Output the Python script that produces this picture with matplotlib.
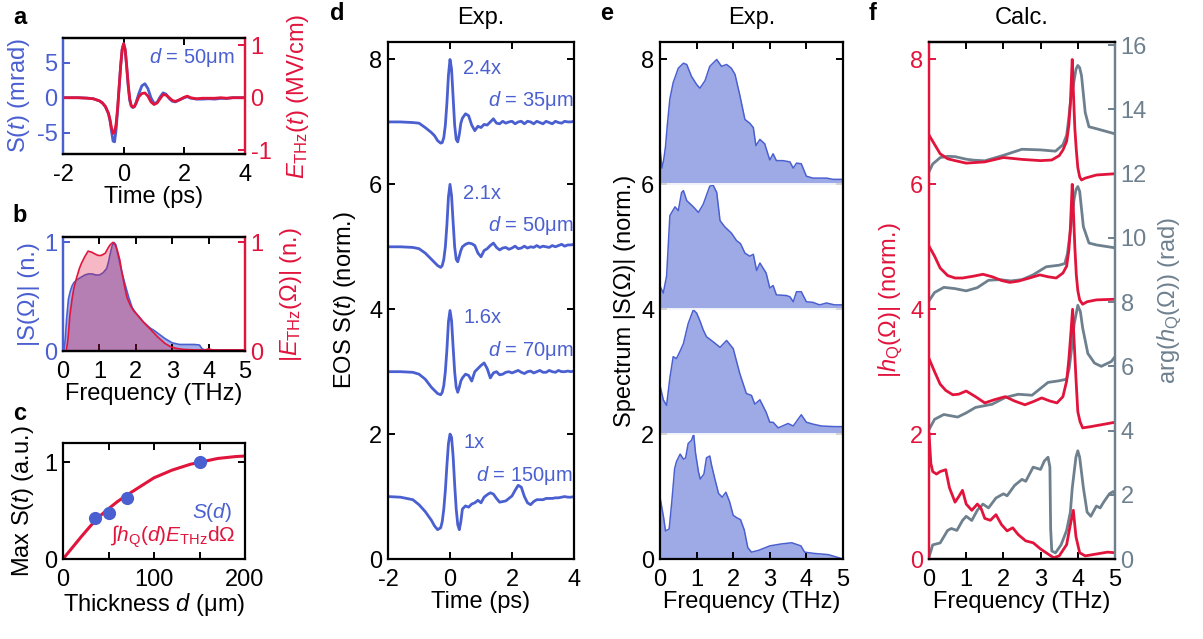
import matplotlib
matplotlib.use("Agg")
import matplotlib.pyplot as plt

plt.rcParams["font.family"] = ["Liberation Sans", "DejaVu Sans"]
plt.rcParams["mathtext.fontset"] = "custom"
plt.rcParams["mathtext.rm"] = "Liberation Sans"
plt.rcParams["mathtext.it"] = "Liberation Sans:italic"
plt.rcParams["mathtext.bf"] = "Liberation Sans:bold"
plt.rcParams["axes.unicode_minus"] = False

BLUE = "#4a5fd0"
RED = "#e1143c"
GRAY = "#6e808e"
FILL = "#9eaae6"

# ---- panel a: time traces, d = 50 um
time_a = [-2.0, -1.5, -1.2, -1.0, -0.8, -0.7, -0.6, -0.5, -0.45, -0.4, -0.35, -0.3,
          -0.25, -0.2, -0.15, -0.1, -0.05, 0.0, 0.05, 0.1, 0.15, 0.2, 0.25, 0.3,
          0.35, 0.4, 0.5, 0.6, 0.7, 0.8, 0.9, 1.0, 1.1, 1.2, 1.3, 1.4, 1.5, 1.6,
          1.7, 1.8, 1.9, 2.0, 2.1, 2.2, 2.4, 2.6, 2.8, 3.0, 3.2, 3.4, 3.6, 3.8, 4.0]
eos_a = [0, 0, -0.05, -0.15, -0.45, -0.75, -1.3, -2.3, -3.3, -4.8, -6.2, -6.3,
         -4.6, -1.8, 1.4, 4.5, 6.9, 7.7, 6.8, 4.4, 1.6, -0.4, -1.2, -1.4,
         -1.3, -0.8, 0.6, 1.7, 2.0, 1.3, 0.0, -0.8, -0.7, 0.1, 0.7, 0.5, -0.1, -0.5,
         -0.6, -0.4, -0.2, 0.0, 0.15, -0.05, -0.2, -0.2, -0.15, -0.2, -0.1, -0.1, 0, 0, 0]
field_a = [0, 0, -0.01, -0.02, -0.06, -0.1, -0.17, -0.3, -0.42, -0.58, -0.68, -0.66,
           -0.5, -0.2, 0.2, 0.6, 0.92, 1.03, 0.92, 0.6, 0.25, -0.02, -0.15, -0.18,
           -0.17, -0.12, 0.02, 0.08, 0.09, 0.03, -0.08, -0.13, -0.1, -0.02, 0.06, 0.05, 0.0, -0.05,
           -0.07, -0.05, -0.02, 0.01, 0.03, 0.0, -0.02, -0.01, -0.01, -0.01, 0, -0.01, 0, 0, 0]

# ---- panel b: spectra
freq_b_s = [0, 0.03, 0.06, 0.1, 0.15, 0.2, 0.25, 0.3, 0.4, 0.5, 0.6, 0.7, 0.8, 0.9, 1.0,
            1.1, 1.2, 1.25, 1.3, 1.35, 1.4, 1.45, 1.5, 1.6, 1.7, 1.8, 1.9, 2.0, 2.1, 2.2,
            2.3, 2.4, 2.5, 2.6, 2.7, 2.8, 2.9, 3.0, 3.2, 3.4, 3.6, 3.75, 3.82, 3.9, 4.0, 4.5, 5.0]
spec_b_s = [0.0, 0.02, 0.1, 0.3, 0.48, 0.55, 0.6, 0.63, 0.66, 0.68, 0.70, 0.71, 0.71, 0.70, 0.70,
            0.72, 0.76, 0.82, 0.9, 0.97, 1.0, 0.98, 0.9, 0.75, 0.62, 0.5, 0.4, 0.35, 0.31, 0.27,
            0.24, 0.21, 0.19, 0.165, 0.14, 0.115, 0.095, 0.075, 0.06, 0.06, 0.06, 0.055, 0.02,
            0.01, 0.01, 0.01, 0.01]
freq_b_e = [0, 0.08, 0.1, 0.14, 0.19, 0.25, 0.3, 0.37, 0.45, 0.51, 0.6, 0.69, 0.79, 0.9, 0.97,
            1.05, 1.16, 1.24, 1.3, 1.37, 1.43, 1.49, 1.56, 1.62, 1.7, 1.76, 1.85, 1.94, 2.05,
            2.2, 2.4, 2.6, 2.8, 2.95, 3.1, 3.3, 3.6, 3.9, 4.0, 4.1, 4.5, 5.0]
spec_b_e = [0, 0.0, 0.02, 0.12, 0.33, 0.48, 0.58, 0.67, 0.76, 0.81, 0.87, 0.92, 0.91, 0.89, 0.88,
            0.88, 0.9, 0.95, 0.98, 1.0, 0.98, 0.93, 0.84, 0.72, 0.58, 0.49, 0.42, 0.37, 0.33,
            0.27, 0.2, 0.13, 0.07, 0.04, 0.025, 0.015, 0.01, 0.01, 0.02, 0.01, 0.01, 0.01]

# ---- panel c: thickness dependence
thick_pts = [35, 50, 70, 150]
max_pts = [0.42, 0.48, 0.635, 1.0]
thick_fit = [0, 10, 20, 30, 40, 50, 60, 70, 80, 90, 100, 110, 120, 130, 140, 150,
             160, 170, 180, 190, 200]
max_fit = [0, 0.115, 0.23, 0.34, 0.44, 0.52, 0.595, 0.66, 0.72, 0.78, 0.84, 0.88,
           0.92, 0.95, 0.98, 1.0, 1.02, 1.04, 1.05, 1.06, 1.065]

# ---- panel d: EOS traces (normalized), top to bottom
thickness_labels = ["35", "50", "70", "150"]
scale_labels = ["2.4x", "2.1x", "1.6x", "1x"]
offsets_d = [7, 5, 3, 1]
time_d = [-2.0, -1.6, -1.2, -1.0, -0.8, -0.6, -0.5, -0.4, -0.3, -0.25, -0.2, -0.15, -0.1,
          -0.05, 0.0, 0.05, 0.1, 0.15, 0.2, 0.25, 0.3, 0.35, 0.4, 0.5, 0.6, 0.7, 0.8, 0.9,
          1.0, 1.1, 1.2, 1.3, 1.4, 1.5, 1.6, 1.7, 1.8, 1.9, 2.0, 2.1, 2.2, 2.3, 2.4, 2.5,
          2.6, 2.7, 2.8, 2.9, 3.0, 3.1, 3.2, 3.3, 3.4, 3.5, 3.6, 3.7, 3.8, 3.9, 4.0]
eos_35 = [0, 0, -0.01, -0.02, -0.09, -0.17, -0.22, -0.3, -0.34, -0.33, -0.25, -0.05, 0.3,
          0.75, 1.0, 0.85, 0.4, -0.05, -0.28, -0.32, -0.2, -0.02, 0.06, 0.13, 0.1, -0.05, -0.14, -0.07,
          -0.09, -0.04, -0.05, 0.0, 0.05, -0.02, -0.03, 0.01, -0.02, 0.0, 0.01, -0.03, 0.0, 0.01, -0.03, 0.01,
          0.0, -0.03, 0.01, -0.01, -0.03, 0.01, -0.01, -0.03, 0.01, -0.01, -0.02, 0.01, 0.0, 0.0, 0.01]
eos_50 = [0, 0, -0.01, -0.03, -0.1, -0.2, -0.25, -0.3, -0.33, -0.3, -0.2, 0.0, 0.35,
          0.8, 1.0, 0.82, 0.4, 0.0, -0.2, -0.24, -0.15, -0.06, 0.0, 0.04, 0.06, 0.05, 0.02, -0.1,
          -0.16, -0.06, -0.03, 0.02, 0.06, -0.01, -0.05, -0.02, -0.01, -0.04, -0.02, 0.01, -0.03, -0.02, 0.01, -0.02,
          0.0, -0.01, 0.02, -0.01, 0.01, 0.0, -0.01, 0.02, 0.0, 0.02, 0.04, 0.01, 0.03, 0.03, 0.04]
eos_70 = [0, 0, -0.01, -0.04, -0.12, -0.25, -0.3, -0.35, -0.37, -0.33, -0.22, 0.0, 0.35,
          0.8, 0.98, 0.82, 0.4, 0.0, -0.25, -0.33, -0.25, -0.15, -0.1, -0.04, -0.06, -0.15, 0.0, 0.05,
          0.1, 0.14, 0.05, -0.1, -0.02, 0.0, -0.05, -0.04, -0.01, 0.0, -0.02, 0.0, 0.02, -0.01, -0.03, 0.0,
          0.01, -0.02, 0.0, 0.02, -0.01, -0.01, 0.02, 0.0, -0.01, 0.02, 0.0, 0.0, 0.01, 0.0, 0.01]
eos_150 = [0, -0.01, -0.05, -0.13, -0.24, -0.38, -0.47, -0.53, -0.5, -0.4, -0.2, 0.1, 0.5,
           0.85, 1.0, 0.95, 0.65, 0.2, -0.2, -0.45, -0.53, -0.4, -0.2, -0.15, -0.17, -0.12, -0.1, -0.06,
           -0.1, -0.01, 0.03, 0.06, 0.04, -0.03, -0.09, -0.08, -0.07, -0.03, 0.01, 0.1, 0.18, 0.15, 0.0, -0.1,
           -0.13, -0.08, -0.05, -0.05, -0.05, -0.03, -0.03, -0.03, -0.02, -0.02, -0.01, 0.0, -0.01, -0.01, 0.0]
eos_traces = [eos_35, eos_50, eos_70, eos_150]

# ---- panel e: spectra (normalized to 2), top to bottom
offsets_e = [6, 4, 2, 0]
freq_35 = [0, 0.05, 0.1, 0.15, 0.2, 0.27, 0.36, 0.5, 0.64, 0.73, 0.86, 1.0, 1.09, 1.23, 1.36,
           1.55, 1.68, 1.82, 1.95, 2.05, 2.18, 2.32, 2.45, 2.55, 2.62, 2.73, 2.86, 3.0, 3.09,
           3.18, 3.36, 3.55, 3.64, 3.73, 3.86, 4.0, 4.18, 4.55, 4.73, 5.0]
spec_35 = [0.59, 0.26, 0.39, 0.6, 0.95, 1.37, 1.63, 1.86, 1.94, 1.92, 1.73, 1.6, 1.54, 1.66, 1.89,
           2.0, 1.89, 1.92, 1.86, 1.76, 1.43, 1.04, 0.98, 0.91, 0.62, 0.72, 0.65, 0.39, 0.49,
           0.38, 0.38, 0.36, 0.26, 0.34, 0.33, 0.13, 0.1, 0.1, 0.08, 0.08]
freq_50 = [0, 0.09, 0.18, 0.27, 0.32, 0.41, 0.5, 0.59, 0.64, 0.73, 0.91, 1.05, 1.18, 1.36, 1.45,
           1.55, 1.64, 1.77, 1.95, 2.09, 2.2, 2.32, 2.45, 2.55, 2.64, 2.73, 2.9, 3.0, 3.09, 3.18,
           3.45, 3.55, 3.64, 3.73, 3.86, 4.0, 4.18, 4.36, 4.55, 4.77, 5.0]
spec_50 = [0.37, 0.26, 0.53, 1.5, 1.55, 1.64, 1.58, 1.87, 1.9, 1.74, 1.64, 1.55, 1.68, 1.97, 1.99,
           1.87, 1.42, 1.32, 1.22, 1.1, 1.05, 0.9, 0.85, 0.88, 0.62, 0.74, 0.58, 0.34, 0.38, 0.23,
           0.22, 0.2, 0.12, 0.28, 0.28, 0.12, 0.11, 0.07, 0.1, 0.07, 0.07]
freq_70 = [0, 0.09, 0.18, 0.27, 0.36, 0.45, 0.55, 0.64, 0.77, 0.91, 1.0, 1.1, 1.18, 1.27, 1.45,
           1.64, 1.82, 2.0, 2.18, 2.36, 2.5, 2.59, 2.73, 2.9, 3.0, 3.09, 3.23, 3.5, 3.64, 3.86,
           4.0, 4.18, 4.41, 4.77, 5.0]
spec_70 = [0.78, 0.55, 0.46, 0.9, 1.24, 1.21, 1.33, 1.45, 1.77, 1.99, 1.94, 1.8, 1.67, 1.56, 1.48,
           1.39, 1.5, 1.37, 0.97, 0.65, 0.62, 0.48, 0.55, 0.35, 0.19, 0.19, 0.1, 0.17, 0.13, 0.31,
           0.19, 0.16, 0.13, 0.12, 0.12]
freq_150 = [0, 0.1, 0.15, 0.25, 0.32, 0.4, 0.45, 0.55, 0.64, 0.7, 0.77, 0.86, 0.92, 0.97, 1.05,
            1.1, 1.2, 1.27, 1.36, 1.41, 1.5, 1.6, 1.7, 1.8, 1.9, 2.0, 2.1, 2.2, 2.3, 2.4, 2.5,
            2.7, 3.0, 3.3, 3.6, 3.75, 3.85, 3.95, 4.2, 4.6, 5.0]
spec_150 = [0.99, 0.66, 0.45, 0.48, 0.9, 1.45, 1.56, 1.68, 1.6, 1.62, 1.85, 1.9, 2.0, 1.7, 1.4,
            1.28, 1.36, 1.62, 1.65, 1.5, 1.28, 1.05, 0.99, 1.07, 0.92, 0.7, 0.66, 0.63, 0.47, 0.18, 0.11,
            0.14, 0.21, 0.24, 0.26, 0.23, 0.21, 0.11, 0.09, 0.07, 0.0]
spec_freqs = [freq_35, freq_50, freq_70, freq_150]
spectra = [spec_35, spec_50, spec_70, spec_150]

# ---- panel f: calculated response, top to bottom
offsets_amp = [6, 4, 2, 0]
offsets_phase = [12, 8, 4, 0]
famp_35 = [0, 0.1, 0.3, 0.5, 0.7, 1.0, 1.5, 2.0, 2.5, 3.0, 3.3, 3.5, 3.6, 3.7, 3.76, 3.8, 3.85,
           3.88, 3.92, 3.96, 4.0, 4.05, 4.1, 4.2, 4.5, 5.0]
amp_35 = [0.79, 0.69, 0.49, 0.41, 0.38, 0.34, 0.36, 0.43, 0.4, 0.38, 0.39, 0.46, 0.55, 0.69, 0.95,
          1.3, 2.0, 1.5, 0.9, 0.55, 0.27, 0.12, 0.07, 0.1, 0.15, 0.17]
famp_50 = [0, 0.15, 0.3, 0.5, 0.7, 0.9, 1.2, 1.45, 1.7, 1.95, 2.17, 2.4, 2.7, 2.98, 3.2, 3.42, 3.6,
           3.7, 3.76, 3.8, 3.85, 3.88, 3.92, 3.96, 4.0, 4.05, 4.13, 4.25, 4.5, 5.0]
amp_50 = [1.01, 0.85, 0.66, 0.54, 0.5, 0.5, 0.53, 0.56, 0.52, 0.46, 0.43, 0.45, 0.5, 0.55, 0.52, 0.5,
          0.58, 0.69, 0.95, 1.3, 2.0, 1.6, 1.0, 0.55, 0.3, 0.15, 0.08, 0.12, 0.15, 0.16]
famp_70 = [0, 0.15, 0.3, 0.45, 0.64, 0.8, 1.0, 1.25, 1.5, 1.75, 2.05, 2.3, 2.58, 2.8, 3.03, 3.25,
           3.44, 3.6, 3.7, 3.76, 3.8, 3.86, 3.9, 3.95, 4.0, 4.06, 4.13, 4.35, 5.0]
amp_70 = [1.21, 1.0, 0.8, 0.7, 0.63, 0.64, 0.69, 0.6, 0.5, 0.55, 0.6, 0.53, 0.47, 0.52, 0.58, 0.53,
          0.5, 0.6, 0.85, 1.2, 1.51, 2.0, 1.5, 0.9, 0.36, 0.2, 0.1, 0.12, 0.19]
famp_150 = [0, 0.05, 0.1, 0.2, 0.3, 0.45, 0.55, 0.7, 0.8, 0.9, 1.0, 1.15, 1.3, 1.4, 1.5, 1.65, 1.8,
            1.95, 2.1, 2.25, 2.4, 2.6, 2.8, 3.0, 3.2, 3.35, 3.5, 3.7, 3.8, 3.88, 3.95, 4.05, 4.2,
            4.5, 4.8, 5.0]
amp_150 = [2.01, 1.53, 1.4, 1.36, 1.4, 1.43, 1.14, 0.91, 1.0, 1.1, 0.88, 0.78, 0.88, 0.81, 0.65, 0.62,
           0.71, 0.55, 0.45, 0.5, 0.39, 0.29, 0.26, 0.16, 0.08, 0.02, 0.05, 0.23, 0.55, 0.78, 0.36,
           0.1, 0.05, 0.08, 0.11, 0.1]
fph_35 = [0, 0.1, 0.3, 0.5, 0.7, 1.0, 1.2, 1.5, 2.0, 2.5, 3.0, 3.4, 3.6, 3.7, 3.75, 3.8, 3.9, 3.95,
          4.0, 4.05, 4.1, 4.2, 4.3, 4.5, 5.0]
ph_35 = [0.06, 0.3, 0.5, 0.54, 0.53, 0.45, 0.42, 0.4, 0.57, 0.76, 0.74, 0.7, 0.9, 1.2, 1.65, 2.2,
         2.9, 3.25, 3.37, 3.3, 3.05, 1.9, 1.46, 1.4, 1.24]
fph_50 = [0, 0.15, 0.4, 0.7, 1.0, 1.3, 1.6, 1.9, 2.2, 2.5, 2.8, 3.15, 3.5, 3.65, 3.72, 3.8, 3.9,
          3.95, 4.0, 4.05, 4.15, 4.3, 4.5, 5.0]
ph_50 = [0.04, 0.3, 0.46, 0.42, 0.35, 0.45, 0.68, 0.7, 0.66, 0.7, 0.85, 1.1, 1.15, 1.2, 1.5, 2.2,
         3.2, 3.5, 3.6, 3.45, 2.35, 1.84, 1.78, 1.69]
fph_70 = [0, 0.15, 0.4, 0.77, 1.0, 1.25, 1.7, 2.05, 2.4, 2.77, 3.2, 3.5, 3.7, 3.77, 3.85, 3.9, 4.0,
          4.07, 4.13, 4.27, 4.45, 4.63, 4.9, 5.0]
ph_70 = [0.03, 0.35, 0.5, 0.42, 0.55, 0.72, 0.82, 1.03, 1.13, 1.1, 1.5, 1.55, 1.6, 1.95, 2.7, 3.3,
         3.9, 3.7, 3.2, 2.4, 2.1, 2.0, 2.15, 2.3]
fph_150 = [0, 0.1, 0.3, 0.5, 0.6, 0.75, 0.9, 1.0, 1.15, 1.3, 1.45, 1.6, 1.8, 2.0, 2.1, 2.3, 2.5,
           2.6, 2.8, 3.0, 3.1, 3.2, 3.25, 3.27, 3.3, 3.4, 3.55, 3.7, 3.8, 3.85, 3.95, 4.0, 4.05,
           4.15, 4.25, 4.35, 4.5, 4.6, 4.7, 4.85, 4.95, 5.0]
ph_150 = [0.06, 0.44, 0.5, 0.89, 0.95, 0.89, 1.2, 1.33, 1.2, 1.52, 1.71, 1.59, 1.9, 2.03, 1.97, 2.29,
          2.48, 2.42, 2.86, 2.79, 3.05, 3.17, 2.86, 0.95, 0.25, 0.19, 0.44, 0.89, 1.46, 2.2, 3.17,
          3.37, 3.17, 2.22, 1.46, 1.33, 1.65, 1.59, 1.78, 2.03, 2.1, 2.03]
amp_freqs = [famp_35, famp_50, famp_70, famp_150]
amps = [amp_35, amp_50, amp_70, amp_150]
phase_freqs = [fph_35, fph_50, fph_70, fph_150]
phases = [ph_35, ph_50, ph_70, ph_150]

W, H = 1203, 639
FS = 17
TICK_FS = 17


def box(left, top, right, bottom):
    return [left / W, 1 - bottom / H, (right - left) / W, (bottom - top) / H]


def style(ax, right=True):
    for sp in ax.spines.values():
        sp.set_linewidth(1.6)
    ax.tick_params(direction="in", length=5, width=1.4, labelsize=TICK_FS,
                   top=True, right=right, pad=4)
    ax.tick_params(axis="x", pad=7)


fig = plt.figure(figsize=(W / 100, H / 100), dpi=100)

# panel a
ax_a = fig.add_axes(box(63, 38, 245, 154))
ax_a2 = ax_a.twinx()
ax_a.plot(time_a, eos_a, color=BLUE, lw=2)
ax_a2.plot(time_a, field_a, color=RED, lw=2)
ax_a.set_xlim(-2, 4)
ax_a.set_ylim(-8.04, 8.53)
ax_a2.set_ylim(-1.072, 1.137)
ax_a.set_xticks([-2, 0, 2, 4])
ax_a.set_yticks([-5, 0, 5])
ax_a2.set_yticks([-1, 0, 1])
style(ax_a, right=False)
style(ax_a2)
ax_a.tick_params(axis="y", colors=BLUE)
ax_a2.tick_params(axis="y", colors=RED, left=False)
ax_a2.tick_params(axis="x", top=False, bottom=False)
for a in (ax_a, ax_a2):
    a.spines["left"].set_color(BLUE)
    a.spines["right"].set_color(RED)
ax_a.set_xlabel("Time (ps)", fontsize=FS, labelpad=0)
ax_a.set_ylabel(r"S($\mathit{t}$) (mrad)", fontsize=FS, color=BLUE, labelpad=3)
ax_a2.set_ylabel(r"$\mathit{E}_\mathrm{THz}$($\mathit{t}$) (MV/cm)", fontsize=FS, color=RED, labelpad=10)
ax_a.text(3.65, 5.7, r"$\mathit{d}$ = 50μm", color=BLUE, fontsize=14.5, ha="right", va="center")

# panel b
ax_b = fig.add_axes(box(63, 237, 245, 351))
ax_b2 = ax_b.twinx()
ax_b.fill_between(freq_b_s, spec_b_s, color=BLUE, alpha=0.5, lw=0)
ax_b.plot(freq_b_s, spec_b_s, color=BLUE, lw=1.2)
ax_b2.fill_between(freq_b_e, spec_b_e, color=RED, alpha=0.3, lw=0)
ax_b2.plot(freq_b_e, spec_b_e, color=RED, lw=1.2)
ax_b.set_xlim(0, 5)
ax_b.set_ylim(0, 1.05)
ax_b2.set_ylim(0, 1.05)
ax_b.set_xticks(range(6))
ax_b.set_yticks([0, 1])
ax_b2.set_yticks([0, 1])
style(ax_b, right=False)
style(ax_b2)
ax_b.tick_params(axis="y", colors=BLUE)
ax_b2.tick_params(axis="y", colors=RED, left=False)
ax_b2.tick_params(axis="x", top=False, bottom=False)
for a in (ax_b, ax_b2):
    a.spines["left"].set_color(BLUE)
    a.spines["right"].set_color(RED)
ax_b.set_xlabel("Frequency (THz)", fontsize=FS, labelpad=0)
ax_b.set_ylabel("|S(Ω)| (n.)", fontsize=FS, color=BLUE, labelpad=3)
ax_b2.set_ylabel(r"|$\mathit{E}_\mathrm{THz}$(Ω)| (n.)", fontsize=FS, color=RED, labelpad=10)

# panel c
ax_c = fig.add_axes(box(63, 443, 245, 559))
ax_c.plot(thick_fit, max_fit, color=RED, lw=2.2)
ax_c.plot(thick_pts, max_pts, "o", color=BLUE, ms=9.5, mec="none")
ax_c.set_xlim(0, 200)
ax_c.set_ylim(0, 1.2)
ax_c.set_xticks([0, 100, 200])
ax_c.set_xticks([50, 150], minor=True)
ax_c.set_yticks([0, 1])
style(ax_c)
ax_c.tick_params(which="minor", direction="in", length=5, width=1.4, top=True)
ax_c.set_xlabel(r"Thickness $\mathit{d}$ (μm)", fontsize=FS, labelpad=0)
ax_c.set_ylabel(r"Max S($\mathit{t}$) (a.u.)", fontsize=FS, labelpad=6)
ax_c.text(186, 0.48, r"$\mathit{S}$($\mathit{d}$)", color=BLUE, fontsize=15, ha="right", va="center")
ax_c.text(189, 0.23, r"∫$\mathit{h}_\mathrm{Q}$($\mathit{d}$)$\mathit{E}_\mathrm{THz}$dΩ",
          color=RED, fontsize=15, ha="right", va="center")

# panel d
ax_d = fig.add_axes(box(388, 42, 574, 559))
for trace, off, sc, th in zip(eos_traces, offsets_d, scale_labels, thickness_labels):
    ax_d.plot(time_d, [v + off for v in trace], color=BLUE, lw=2)
    ax_d.text(0.42, off + 0.86, sc, color=BLUE, fontsize=14.5, ha="left", va="center")
    ax_d.text(3.97, off + 0.34, r"$\mathit{d}$ = " + th + "μm", color=BLUE, fontsize=14.5,
              ha="right", va="center")
ax_d.set_xlim(-2, 4)
ax_d.set_ylim(0, 8.28)
ax_d.set_xticks([-2, 0, 2, 4])
ax_d.set_yticks([0, 2, 4, 6, 8])
style(ax_d)
ax_d.set_xlabel("Time (ps)", fontsize=FS, labelpad=0)
ax_d.set_ylabel(r"EOS S($\mathit{t}$) (norm.)", fontsize=FS, labelpad=8)
ax_d.set_title("Exp.", fontsize=17, pad=13)

# panel e
ax_e = fig.add_axes(box(660, 42, 843, 559))
for fr, sp, off in zip(spec_freqs, spectra, offsets_e):
    ax_e.fill_between(fr, off, [v + off for v in sp], color=FILL, lw=0)
    ax_e.plot(fr, [v + off for v in sp], color=BLUE, lw=1.1)
for off in offsets_e[:-1]:
    ax_e.axhline(off, color="white", lw=1.2)
ax_e.set_xlim(0, 5)
ax_e.set_ylim(0, 8.28)
ax_e.set_xticks(range(6))
ax_e.set_yticks([0, 2, 4, 6, 8])
style(ax_e)
ax_e.set_xlabel("Frequency (THz)", fontsize=FS, labelpad=0)
ax_e.set_ylabel("Spectrum |S(Ω)| (norm.)", fontsize=FS, labelpad=4)
ax_e.set_title("Exp.", fontsize=17, pad=13)

# panel f
ax_f = fig.add_axes(box(929, 42, 1115, 559))
ax_f2 = ax_f.twinx()
for fr, ph, off in zip(phase_freqs, phases, offsets_phase):
    ax_f2.plot(fr, [v + off for v in ph], color=GRAY, lw=2)
for fr, am, off in zip(amp_freqs, amps, offsets_amp):
    ax_f.plot(fr, [v + off for v in am], color=RED, lw=2)
ax_f.set_zorder(ax_f2.get_zorder() + 1)
ax_f.patch.set_visible(False)
ax_f.set_xlim(0, 5)
ax_f.set_ylim(0, 8.28)
ax_f2.set_ylim(0, 16.1)
ax_f.set_xticks(range(6))
ax_f.set_yticks([0, 2, 4, 6, 8])
ax_f2.set_yticks(range(0, 17, 2))
style(ax_f, right=False)
style(ax_f2)
ax_f.tick_params(axis="y", colors=RED)
ax_f2.tick_params(axis="y", colors=GRAY, left=False)
ax_f2.tick_params(axis="x", top=False, bottom=False)
for a in (ax_f, ax_f2):
    a.spines["left"].set_color(RED)
    a.spines["right"].set_color(GRAY)
ax_f.set_xlabel("Frequency (THz)", fontsize=FS, labelpad=0)
ax_f.set_ylabel(r"|$\mathit{h}_\mathrm{Q}$(Ω)| (norm.)", fontsize=FS, color=RED, labelpad=4)
ax_f2.set_ylabel(r"arg($\mathit{h}_\mathrm{Q}$(Ω)) (rad)", fontsize=FS, color=GRAY, labelpad=6)
ax_f.set_title("Calc.", fontsize=17, pad=13)

# panel letters
for letter, x, y in [("a", 20, 17), ("b", 20, 215), ("c", 20, 413),
                     ("d", 337, 14), ("e", 607, 14), ("f", 873, 14)]:
    fig.text(x / W, 1 - y / H, letter, fontsize=17, fontweight="bold", ha="center", va="center")

fig.savefig("out.png", dpi=100, facecolor="white")
